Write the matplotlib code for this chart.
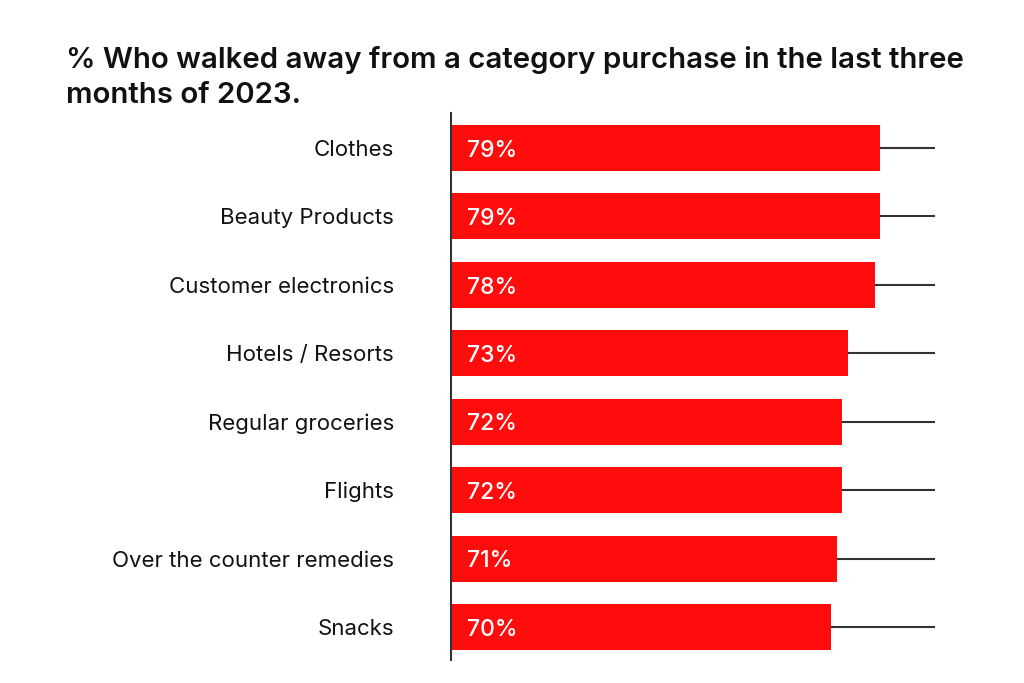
import matplotlib.pyplot as plt
import numpy as np

plt.rcParams['font.family'] = ['Inter', 'DejaVu Sans']

# data
categories = ['Clothes', 'Beauty Products', 'Customer electronics', 'Hotels / Resorts',
              'Regular groceries', 'Flights', 'Over the counter remedies', 'Snacks']
values = [79, 79, 78, 73, 72, 72, 71, 70]
labels = ['79%', '79%', '78%', '73%', '72%', '72%', '71%', '70%']

bar_color = '#FF0D0D'
x_max = 89.1

fig = plt.figure(figsize=(10.24, 6.83), dpi=100)
ax = fig.add_axes([451 / 1024, 1 - 660 / 683, (935 - 451) / 1024, 547 / 683])

y = np.arange(len(categories))

# thin line behind each bar, out to the right edge
ax.hlines(y, 0, x_max, color='#333333', linewidth=1.5, zorder=1)
ax.barh(y, values, height=0.67, color=bar_color, zorder=2)

for yi, lab in zip(y, labels):
    ax.text(2.9, yi + 0.04, lab, color='white', fontsize=16.5, fontweight='medium',
            va='center', ha='left', zorder=3)

ax.set_xlim(0, x_max)
ax.set_ylim(7.48, -0.51)
ax.set_yticks(y)
ax.set_yticklabels(categories, fontsize=16, color='#111111')
ax.tick_params(axis='y', length=0, pad=41)
ax.set_xticks([])

for s in ['top', 'right', 'bottom']:
    ax.spines[s].set_visible(False)
ax.spines['left'].set_color('#333333')
ax.spines['left'].set_linewidth(1.5)

fig.text(66 / 1024, 1 - 103 / 683,
         '% Who walked away from a category purchase in the last three\nmonths of 2023.',
         fontsize=21.2, fontweight='semibold', color='#111111',
         ha='left', va='baseline', linespacing=1.39)

fig.savefig('out.png', dpi=100, facecolor='white')
